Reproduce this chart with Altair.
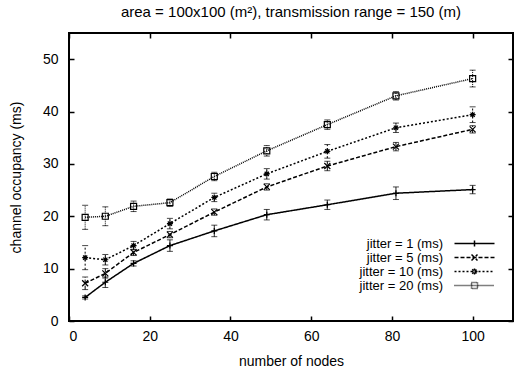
import altair as alt
import pandas as pd

nodes = [4, 9, 16, 25, 36, 49, 64, 81, 100]
series = ["jitter = 1 (ms)", "jitter = 5 (ms)", "jitter = 10 (ms)", "jitter = 20 (ms)"]
j1 = [4.5, 7.4, 11.0, 14.4, 17.2, 20.3, 22.2, 24.4, 25.1]
j1_err = [0.3, 1.0, 0.5, 1.1, 1.1, 1.0, 0.9, 1.2, 0.8]
j5 = [7.2, 9.1, 13.1, 16.5, 20.8, 25.6, 29.6, 33.3, 36.6]
j5_err = [1.2, 0.9, 0.6, 0.6, 0.6, 0.6, 0.9, 0.8, 0.7]
j10 = [12.1, 11.7, 14.4, 18.6, 23.6, 28.1, 32.4, 36.9, 39.4]
j10_err = [2.3, 1.0, 0.8, 1.0, 0.8, 1.0, 1.3, 0.9, 1.5]
j20 = [19.8, 20.0, 21.9, 22.6, 27.6, 32.5, 37.5, 43.0, 46.3]
j20_err = [2.3, 1.8, 1.0, 0.7, 0.8, 1.0, 0.9, 0.8, 1.6]

values = [j1, j5, j10, j20]
errors = [j1_err, j5_err, j10_err, j20_err]

rows = []
for s, vals, errs in zip(series, values, errors):
    for n, v, e in zip(nodes, vals, errs):
        rows.append({"nodes": n, "occ": v, "lo": v - e, "hi": v + e, "series": s})
df = pd.DataFrame(rows)

FONT = "Liberation Sans"
FS = 14
dashes = [[1, 0], [4, 2], [2, 2], [1, 1]]
shapes = [
    "M-1,0L1,0M0,-1L0,1",
    "M-1,-1L1,1M-1,1L1,-1",
    "M-1,0L1,0M0,-1L0,1M-0.7,-0.7L0.7,0.7M-0.7,0.7L0.7,-0.7",
    "square",
]
legend_paths = [
    "M-4,0L4,0M-0.6,0L0.6,0M0,-0.6L0,0.6",
    "M-4,0L4,0M-0.6,-0.6L0.6,0.6M-0.6,0.6L0.6,-0.6",
    "M-4,0L4,0M-0.6,0L0.6,0M0,-0.6L0,0.6M-0.45,-0.45L0.45,0.45M-0.45,0.45L0.45,-0.45",
    "M-4,0L4,0M-0.6,-0.6L0.6,-0.6L0.6,0.6L-0.6,0.6Z",
]
shape_signal = " : ".join(
    f"datum.value === '{s}' ? '{p}'" for s, p in zip(series[:-1], legend_paths[:-1])
) + f" : '{legend_paths[-1]}'"

xscale = alt.Scale(domain=[0, 110], nice=False)
yscale = alt.Scale(domain=[0, 55], nice=False)

x_axis = alt.Axis(orient="bottom", values=[0, 20, 40, 60, 80, 100], offset=-5, domain=False,
                  grid=False, tickSize=5, tickWidth=1.5, tickColor="black", labelFont=FONT,
                  labelFontSize=FS, labelColor="black", labelPadding=8, title="number of nodes",
                  titleFont=FONT, titleFontSize=FS, titleFontWeight="normal", titleColor="black",
                  titlePadding=11)
y_axis = alt.Axis(orient="left", values=[0, 10, 20, 30, 40, 50], offset=-5, domain=False,
                  grid=False, tickSize=5, tickWidth=1.5, tickColor="black", labelFont=FONT,
                  labelFontSize=FS, labelColor="black", labelPadding=11, title="channel occupancy (ms)",
                  titleFont=FONT, titleFontSize=FS, titleFontWeight="normal", titleColor="black",
                  titlePadding=19)
x_top = alt.Axis(orient="top", values=[0, 20, 40, 60, 80, 100], offset=-5, domain=False, grid=False,
                 tickSize=5, tickWidth=1.5, tickColor="black", labels=False, title=None)
y_right = alt.Axis(orient="right", values=[0, 10, 20, 30, 40, 50], offset=-5, domain=False, grid=False,
                   tickSize=5, tickWidth=1.5, tickColor="black", labels=False, title=None)

dash_scale = alt.Scale(domain=series, range=dashes)
width_scale = alt.Scale(domain=series, range=[1.5, 1.5, 1.5, 1.0])

legend = alt.Legend(title=None, orient="none", legendX=399, legendY=204, padding=0,
                    symbolType={"expr": shape_signal}, symbolSize=100, symbolStrokeColor="black",
                    symbolStrokeWidth=1.3, symbolFillColor="transparent", labelAlign="right",
                    labelOffset={"expr": "-38"}, labelFont=FONT, labelFontSize=13, labelColor="black",
                    rowPadding={"expr": "-6.3"})

base = alt.Chart(df)

lines = base.mark_line(color="black").encode(
    x=alt.X("nodes:Q", scale=xscale, axis=x_axis),
    y=alt.Y("occ:Q", scale=yscale, axis=y_axis),
    strokeDash=alt.StrokeDash("series:N", scale=dash_scale, legend=legend, sort=series),
    strokeWidth=alt.StrokeWidth("series:N", scale=width_scale, legend=None, sort=series),
)

mirror = base.mark_point(opacity=0).encode(
    x=alt.X("nodes:Q", scale=xscale, axis=x_top),
    y=alt.Y("occ:Q", scale=yscale, axis=y_right),
)

rules = base.mark_rule(color="black", strokeWidth=1).encode(
    x=alt.X("nodes:Q", scale=xscale, axis=None),
    y=alt.Y("lo:Q", scale=yscale, axis=None),
    y2="hi:Q",
    strokeDash=alt.StrokeDash("series:N", scale=dash_scale, legend=None, sort=series),
)

cap_shape = "M-1,0L1,0"
caps_lo = base.mark_point(shape=cap_shape, size=36, color="black", strokeWidth=1, filled=False).encode(
    x=alt.X("nodes:Q", scale=xscale, axis=None),
    y=alt.Y("lo:Q", scale=yscale, axis=None),
)
caps_hi = base.mark_point(shape=cap_shape, size=36, color="black", strokeWidth=1, filled=False).encode(
    x=alt.X("nodes:Q", scale=xscale, axis=None),
    y=alt.Y("hi:Q", scale=yscale, axis=None),
)

point_layers = []
for s, shp in zip(series, shapes):
    point_layers.append(
        base.transform_filter(alt.datum.series == s).mark_point(
            shape=shp, color="black", filled=False, strokeWidth=1.2, size=36, opacity=1
        ).encode(
            x=alt.X("nodes:Q", scale=xscale, axis=None),
            y=alt.Y("occ:Q", scale=yscale, axis=None),
        )
    )

chart = alt.layer(lines, mirror, rules, caps_lo, caps_hi, *point_layers).resolve_axis(
    x="independent", y="independent"
).properties(
    width=444,
    height=288,
    title=alt.TitleParams("area = 100x100 (m²), transmission range = 150 (m)", font=FONT,
                          fontSize=15, fontWeight="normal", color="black", anchor="middle", offset=12),
    autosize=alt.AutoSizeParams(type="none"),
    padding={"left": 69, "top": 33, "right": 1, "bottom": 48},
    background="white",
).configure_view(stroke="black", strokeWidth=2)

chart.save("out.html", embed_options={"renderer": "svg", "actions": False})
